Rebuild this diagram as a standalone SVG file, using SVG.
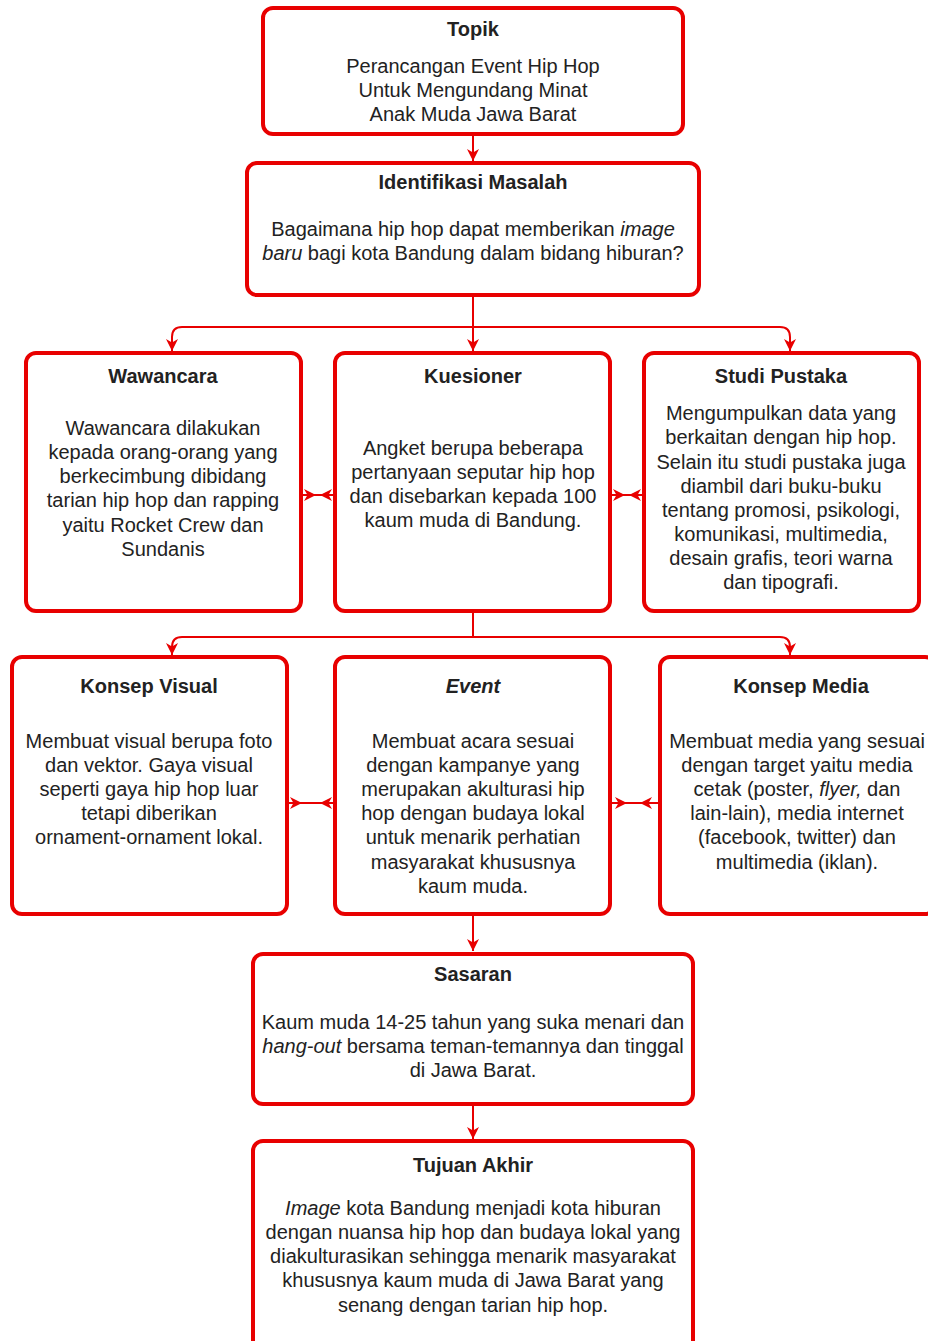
<svg xmlns="http://www.w3.org/2000/svg" width="928" height="1341" viewBox="0 0 928 1341">
<style>
.box{fill:#fff;stroke:#e80000;stroke-width:4}
.ln{fill:none;stroke:#e80000;stroke-width:2}
text{font-family:"Liberation Sans",Arial,sans-serif;font-size:20px;fill:#222;text-anchor:middle}
.t{font-weight:bold}
.i{font-style:italic}
</style>
<defs>
<marker id="ah" viewBox="0 0 12 12" refX="12" refY="6" markerWidth="12" markerHeight="12" markerUnits="userSpaceOnUse" orient="auto">
<path d="M0,0 L12,6 L0,12 L3.5,6 z" fill="#e80000"/>
</marker>
</defs>
<rect width="928" height="1341" fill="#fff"/>
<g id="connectors">
<path class="ln" d="M473,134 V161" marker-end="url(#ah)"/>
<path class="ln" d="M473,295 V351" marker-end="url(#ah)"/>
<path class="ln" d="M473,327 H182 Q172,327 172,337 V351" marker-end="url(#ah)"/>
<path class="ln" d="M473,327 H780 Q790,327 790,337 V351" marker-end="url(#ah)"/>
<path class="ln" d="M301,495 H335"/>
<path class="ln" d="M302,495 H316" marker-end="url(#ah)"/>
<path class="ln" d="M334,495 H320" marker-end="url(#ah)"/>
<path class="ln" d="M610,495 H644"/>
<path class="ln" d="M611,495 H625" marker-end="url(#ah)"/>
<path class="ln" d="M643,495 H629" marker-end="url(#ah)"/>
<path class="ln" d="M473,611 V637 H182 Q172,637 172,647 V655" marker-end="url(#ah)"/>
<path class="ln" d="M473,637 H780 Q790,637 790,647 V655" marker-end="url(#ah)"/>
<path class="ln" d="M287,803 H335"/>
<path class="ln" d="M288,803 H302" marker-end="url(#ah)"/>
<path class="ln" d="M334,803 H320" marker-end="url(#ah)"/>
<path class="ln" d="M610,803 H660"/>
<path class="ln" d="M611,803 H627" marker-end="url(#ah)"/>
<path class="ln" d="M659,803 H640" marker-end="url(#ah)"/>
<path class="ln" d="M473,915 V951" marker-end="url(#ah)"/>
<path class="ln" d="M473,1105 V1139" marker-end="url(#ah)"/>
</g>
<g id="topik">
<rect class="box" x="263" y="8" width="420" height="126" rx="10"/>
<text class="t" x="473" y="36">Topik</text>
<text x="473" y="73">Perancangan Event Hip Hop</text>
<text x="473" y="97">Untuk Mengundang Minat</text>
<text x="473" y="121">Anak Muda Jawa Barat</text>
</g>
<g id="identifikasi">
<rect class="box" x="247" y="163" width="452" height="132" rx="10"/>
<text class="t" x="473" y="189">Identifikasi Masalah</text>
<text x="473" y="236">Bagaimana hip hop dapat memberikan <tspan class="i">image</tspan></text>
<text x="473" y="260"><tspan class="i">baru</tspan> bagi kota Bandung dalam bidang hiburan?</text>
</g>
<g id="wawancara">
<rect class="box" x="26" y="353" width="275" height="258" rx="10"/>
<text class="t" x="163" y="383">Wawancara</text>
<text x="163" y="435">Wawancara dilakukan</text>
<text x="163" y="459">kepada orang-orang yang</text>
<text x="163" y="483">berkecimbung dibidang</text>
<text x="163" y="507">tarian hip hop dan rapping</text>
<text x="163" y="532">yaitu Rocket Crew dan</text>
<text x="163" y="556">Sundanis</text>
</g>
<g id="kuesioner">
<rect class="box" x="335" y="353" width="275" height="258" rx="10"/>
<text class="t" x="473" y="383">Kuesioner</text>
<text x="473" y="455">Angket berupa beberapa</text>
<text x="473" y="479">pertanyaan seputar hip hop</text>
<text x="473" y="503">dan disebarkan kepada 100</text>
<text x="473" y="527">kaum muda di Bandung.</text>
</g>
<g id="studi">
<rect class="box" x="644" y="353" width="275" height="258" rx="10"/>
<text class="t" x="781" y="383">Studi Pustaka</text>
<text x="781" y="420">Mengumpulkan data yang</text>
<text x="781" y="444">berkaitan dengan hip hop.</text>
<text x="781" y="469">Selain itu studi pustaka juga</text>
<text x="781" y="493">diambil dari buku-buku</text>
<text x="781" y="517">tentang promosi, psikologi,</text>
<text x="781" y="541">komunikasi, multimedia,</text>
<text x="781" y="565">desain grafis, teori warna</text>
<text x="781" y="589">dan tipografi.</text>
</g>
<g id="visual">
<rect class="box" x="12" y="657" width="275" height="257" rx="10"/>
<text class="t" x="149" y="693">Konsep Visual</text>
<text x="149" y="748">Membuat visual berupa foto</text>
<text x="149" y="772">dan vektor. Gaya visual</text>
<text x="149" y="796">seperti gaya hip hop luar</text>
<text x="149" y="820">tetapi diberikan</text>
<text x="149" y="844">ornament-ornament lokal.</text>
</g>
<g id="event">
<rect class="box" x="335" y="657" width="275" height="257" rx="10"/>
<text class="t i" x="473" y="693">Event</text>
<text x="473" y="748">Membuat acara sesuai</text>
<text x="473" y="772">dengan kampanye yang</text>
<text x="473" y="796">merupakan akulturasi hip</text>
<text x="473" y="820">hop dengan budaya lokal</text>
<text x="473" y="844">untuk menarik perhatian</text>
<text x="473" y="869">masyarakat khususnya</text>
<text x="473" y="893">kaum muda.</text>
</g>
<g id="media">
<rect class="box" x="660" y="657" width="275" height="257" rx="10"/>
<text class="t" x="801" y="693">Konsep Media</text>
<text x="797" y="748">Membuat media yang sesuai</text>
<text x="797" y="772">dengan target yaitu media</text>
<text x="797" y="796">cetak (poster, <tspan class="i">flyer,</tspan> dan</text>
<text x="797" y="820">lain-lain), media internet</text>
<text x="797" y="844">(facebook, twitter) dan</text>
<text x="797" y="869">multimedia (iklan).</text>
</g>
<g id="sasaran">
<rect class="box" x="253" y="954" width="440" height="150" rx="10"/>
<text class="t" x="473" y="981">Sasaran</text>
<text x="473" y="1029">Kaum muda 14-25 tahun yang suka menari dan</text>
<text x="473" y="1053"><tspan class="i">hang-out</tspan> bersama teman-temannya dan tinggal</text>
<text x="473" y="1077">di Jawa Barat.</text>
</g>
<g id="tujuan">
<rect class="box" x="253" y="1141" width="440" height="220" rx="10"/>
<text class="t" x="473" y="1172">Tujuan Akhir</text>
<text x="473" y="1215"><tspan class="i">Image</tspan> kota Bandung menjadi kota hiburan</text>
<text x="473" y="1239">dengan nuansa hip hop dan budaya lokal yang</text>
<text x="473" y="1263">diakulturasikan sehingga menarik masyarakat</text>
<text x="473" y="1287">khususnya kaum muda di Jawa Barat yang</text>
<text x="473" y="1312">senang dengan tarian hip hop.</text>
</g>
</svg>
